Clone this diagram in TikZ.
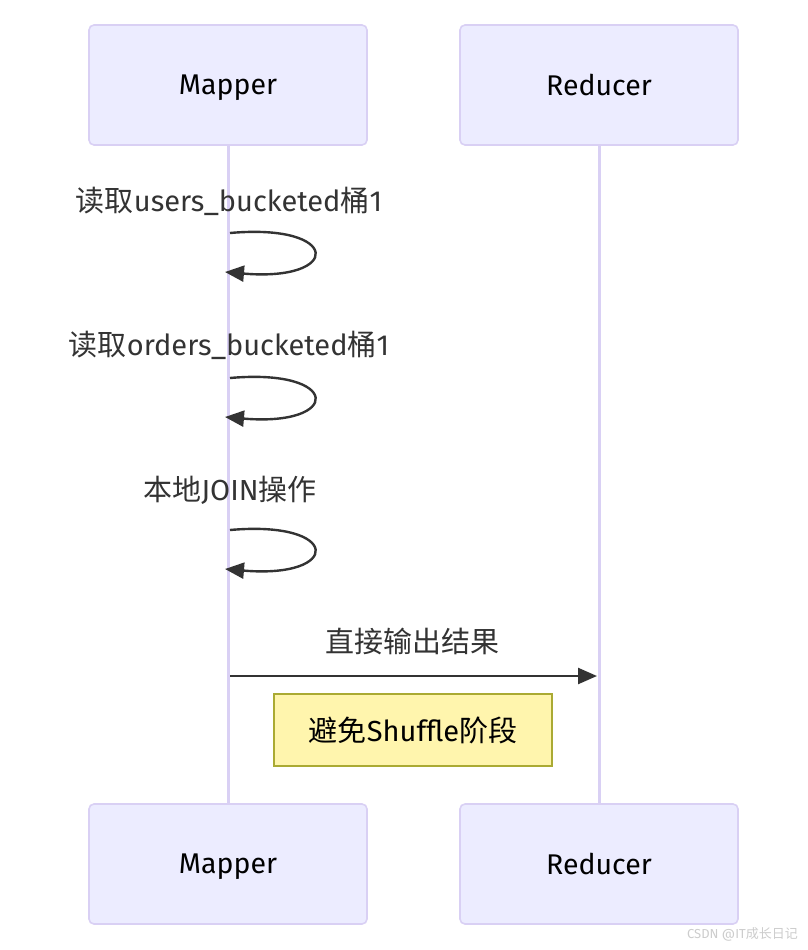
\documentclass[tikz,border=0pt]{standalone}
\usepackage{fontspec}
\setmainfont{Fira Sans}
\newfontfamily\cjk{Noto Sans CJK SC}
\usetikzlibrary{arrows.meta}
\definecolor{actfill}{HTML}{ECECFF}
\definecolor{actline}{HTML}{D9D0F4}
\definecolor{txt}{HTML}{333333}
\definecolor{notefill}{HTML}{FFF5AD}
\definecolor{noteline}{HTML}{AAAA33}
\tikzset{
  actor/.style={draw=actline, fill=actfill, line width=1.6pt, rounded corners=5pt,
    minimum width=278pt, minimum height=120pt, inner sep=0pt, text depth=0pt,
    font=\fontsize{28.5}{33}\selectfont, text=black},
  lifeline/.style={draw=actline, line width=3pt},
  msg/.style={draw=txt, line width=2.4pt, -{Triangle[length=19pt,width=16pt]}},
  lbl/.style={font=\fontsize{29}{34}\selectfont, text=txt, inner sep=0pt},
  note/.style={draw=noteline, fill=notefill, line width=1.4pt, minimum width=278pt,
    minimum height=72pt, inner sep=0pt, font=\fontsize{29}{34}\selectfont, text=black},
}
\begin{document}
\begin{tikzpicture}[x=1pt,y=-1pt]
\useasboundingbox (0,0) rectangle (808,950);
\node[actor] (mapTop) at (228,85) {Mapper};
\node[actor] (redTop) at (599,85) {Reducer};
\node[actor] (mapBot) at (228,864) {Mapper};
\node[actor] (redBot) at (599,864) {Reducer};
\draw[lifeline] (mapTop.south) -- (mapBot.north);
\draw[lifeline] (redTop.south) -- (redBot.north);
% loop 1
\node[lbl] (l1) at (229,201) {{\cjk 读取}users\_bucketed{\cjk 桶}1};
\coordinate (a1) at (230,233);
\coordinate (b1) at (225,272);
\draw[msg] (a1) .. controls (342,223) and (342,282) .. (b1);
% loop 2
\node[lbl] (l2) at (229,345) {{\cjk 读取}orders\_bucketed{\cjk 桶}1};
\coordinate (a2) at (230,378);
\coordinate (b2) at (225,417);
\draw[msg] (a2) .. controls (342,368) and (342,427) .. (b2);
% loop 3
\node[lbl] (l3) at (230,490) {{\cjk 本地}JOIN{\cjk 操作}};
\coordinate (a3) at (230,530);
\coordinate (b3) at (225,569);
\draw[msg] (a3) .. controls (342,520) and (342,579) .. (b3);
% message
\coordinate (m1) at (230,676);
\coordinate (m2) at (597,676);
\draw[msg] (m1) -- (m2);
\node[lbl] (l4) at (412,641) {\cjk 直接输出结果};
% note
\node[note] (n1) at (413,730) {{\cjk 避免}Shuffle{\cjk 阶段}};
% watermark
\node[anchor=east, text=black!20, font=\fontsize{13}{15}\selectfont, inner sep=0pt] (wm) at (798,934) {CSDN @IT{\cjk 成长日记}};
\end{tikzpicture}
\end{document}
